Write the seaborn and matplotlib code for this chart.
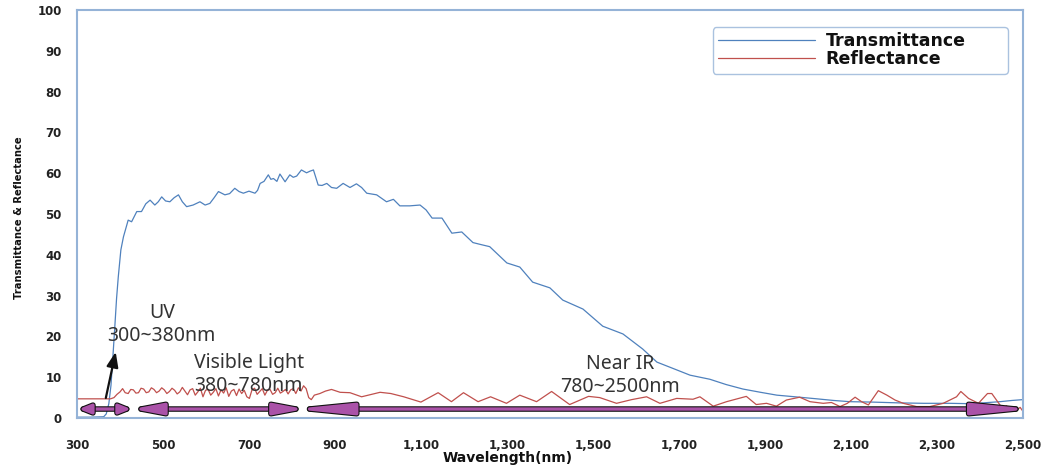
import matplotlib
matplotlib.use("Agg")
import matplotlib.pyplot as plt
import matplotlib.patheffects as pe
from matplotlib.patches import FancyArrowPatch, ArrowStyle
from matplotlib.lines import Line2D
from matplotlib import font_manager as fm
import seaborn as sns
import pandas as pd

# ---------------- data ----------------
trans_nm = [300, 330, 362, 368, 374, 379, 384, 388, 392, 396, 402, 408, 419, 427, 439, 450, 460, 470,
            481, 489, 497, 506, 516, 526, 536, 545, 555, 570, 586, 598, 609, 619, 629, 644, 655, 667,
            677, 687, 700, 714, 720, 726, 735, 745, 751, 757, 765, 772, 784, 795, 803, 811, 822, 834,
            842, 850, 861, 870, 881, 892, 904, 919, 935, 950, 962, 974, 997, 1020, 1036, 1051, 1074,
            1098, 1112, 1126, 1149, 1172, 1195, 1221, 1240, 1260, 1280, 1300, 1330, 1360, 1400, 1430,
            1477, 1523, 1570, 1616, 1649, 1690, 1726, 1772, 1810, 1849, 1890, 1928, 1970, 2021, 2060,
            2098, 2150, 2214, 2270, 2330, 2380, 2447, 2475, 2500]
trans_val = [0.2, 0.2, 0.3, 1.0, 3.5, 8.0, 15.9, 22.5, 29.3, 34.6, 41.2, 44.4, 48.5, 48.1, 50.6, 50.6,
             52.5, 53.4, 52.2, 53.0, 54.2, 53.2, 53.0, 54.0, 54.7, 53.0, 51.8, 52.2, 53.0, 52.2, 52.6,
             54.0, 55.5, 54.7, 55.0, 56.3, 55.5, 55.1, 55.6, 55.1, 55.8, 57.5, 58.0, 59.6, 58.5, 58.7,
             58.0, 59.8, 57.9, 59.6, 59.0, 59.3, 60.8, 60.1, 60.5, 60.8, 57.1, 57.0, 57.5, 56.5, 56.3,
             57.5, 56.5, 57.4, 56.5, 55.1, 54.7, 53.0, 53.6, 52.0, 52.0, 52.2, 51.0, 49.0, 49.0, 45.3,
             45.6, 43.0, 42.5, 42.0, 40.0, 38.0, 37.0, 33.3, 31.9, 28.9, 26.7, 22.5, 20.6, 16.9, 13.7,
             12.0, 10.5, 9.5, 8.2, 7.1, 6.3, 5.6, 5.2, 4.7, 4.3, 4.0, 3.9, 3.7, 3.6, 3.6, 3.5, 4.0,
             4.3, 4.5]

refl_nm = [300, 340, 378, 386, 393, 400, 406, 412, 419, 425, 431, 437, 443, 449, 455, 461, 467, 473,
           479, 485, 491, 497, 503, 509, 515, 521, 527, 533, 539, 545, 551, 557, 563, 569, 575, 581,
           587, 593, 599, 605, 611, 617, 623, 629, 635, 641, 647, 653, 659, 665, 671, 677, 683, 689,
           695, 701, 707, 713, 719, 725, 731, 737, 743, 749, 755, 761, 767, 773, 779, 785, 791, 797,
           803, 809, 815, 821, 827, 833, 839, 845, 852, 865, 878, 892, 912, 935, 962, 985, 1005, 1030,
           1060, 1100, 1140, 1171, 1199, 1233, 1262, 1299, 1330, 1369, 1404, 1446, 1490, 1516, 1555,
           1590, 1625, 1656, 1695, 1733, 1749, 1780, 1811, 1857, 1880, 1904, 1927, 1950, 1981, 2005,
           2036, 2055, 2075, 2092, 2110, 2125, 2141, 2164, 2184, 2203, 2222, 2253, 2284, 2315, 2346,
           2356, 2374, 2397, 2418, 2428, 2447, 2455, 2462, 2470, 2478, 2486, 2494, 2500]
refl_val = [4.7, 4.7, 4.7, 5.0, 5.8, 6.4, 7.2, 6.2, 6.0, 7.0, 6.9, 6.1, 6.2, 7.3, 7.1, 6.2, 6.4, 7.4,
            7.0, 6.2, 6.6, 7.4, 6.9, 6.0, 6.5, 7.3, 6.8, 5.9, 6.4, 7.5, 6.6, 5.7, 6.9, 7.2, 5.6, 6.4,
            7.3, 5.2, 6.8, 7.0, 5.6, 6.3, 7.2, 5.4, 6.9, 6.1, 7.4, 5.3, 6.6, 7.0, 5.5, 7.1, 6.0, 6.8,
            5.2, 4.8, 6.9, 7.3, 5.8, 6.5, 7.2, 5.6, 6.8, 7.0, 5.8, 6.2, 7.3, 6.1, 6.5, 7.0, 5.9, 6.9,
            7.2, 6.0, 7.4, 6.6, 7.9, 7.2, 5.0, 4.5, 5.6, 6.0, 6.6, 7.0, 6.3, 6.2, 5.2, 5.8, 6.3, 6.0,
            5.2, 3.9, 6.2, 4.0, 6.2, 4.0, 5.2, 3.6, 5.6, 4.0, 6.5, 3.3, 5.3, 5.0, 3.6,
            4.5, 5.2, 3.6, 4.8, 4.6, 5.2, 2.9, 4.0, 5.3, 3.3, 3.6, 2.9, 4.4, 5.1, 4.0,
            3.6, 3.8, 2.8, 3.6, 5.1, 4.0, 3.2, 6.7, 5.6, 4.4, 3.6, 2.8, 2.8, 3.6, 5.2,
            6.5, 4.8, 3.6, 6.0, 6.0, 3.2, 2.4, 3.0, 2.2, 2.8, 2.0, 2.6, 1.7]

series_names = ["Transmittance", "Reflectance"]
series_colors = ["#4f81bd", "#c0504d"]

x_ticks = [300, 500, 700, 900, 1100, 1300, 1500, 1700, 1900, 2100, 2300, 2500]
x_tick_labels = ["300", "500", "700", "900", "1,100", "1,300", "1,500", "1,700", "1,900",
                 "2,100", "2,300", "2,500"]
y_ticks = [0, 10, 20, 30, 40, 50, 60, 70, 80, 90, 100]

# band arrows (anchor points of the arrow patches)
band_start = [304, 428, 802]
band_end = [426, 830, 2523]
band_level = 2.2
band_head_len = [7.0, 18.0, 34.0]
band_head_w = [2.8, 3.4, 3.4]

uv_pointer_from = (367, 4.9)
uv_pointer_to = (390, 16.2)

band_labels = ["UV\n300~380nm", "Visible Light\n380~780nm", "Near IR\n780~2500nm"]
band_label_pos = [(497, 23.0), (573, 10.7), (1563, 10.5)]
band_label_ha = ["center", "left", "center"]

# ---------------- plot ----------------
sns.set_style("white")
plt.rcParams["font.family"] = ["DejaVu Sans"]

df = pd.concat([
    pd.DataFrame({"nm": trans_nm, "value": trans_val, "series": series_names[0]}),
    pd.DataFrame({"nm": refl_nm, "value": refl_val, "series": series_names[1]}),
])

fig = plt.figure(figsize=(10.45, 4.66), dpi=100)
ax = fig.add_axes([0.0737, 0.103, 0.905, 0.8755])

sns.lineplot(data=df, x="nm", y="value", hue="series", hue_order=series_names,
             palette=dict(zip(series_names, series_colors)), linewidth=0.9,
             estimator=None, sort=False, ax=ax, legend=False)

ax.set_xlim(300, 2500)
ax.set_ylim(0, 100)

frame_col = "#95b3d7"
for s in ax.spines.values():
    s.set_color(frame_col)
    s.set_linewidth(1.5)

ax.set_xticks(x_ticks)
ax.set_xticklabels(x_tick_labels)
ax.set_xticks(list(range(300, 2501, 50)), minor=True)
ax.set_yticks(y_ticks)
ax.set_yticklabels([str(v) for v in y_ticks])
ax.tick_params(axis="x", which="both", direction="out", length=4, width=0.8,
               color="#a0a8b8", pad=11, labelsize=8.5, labelcolor="#222222")
ax.tick_params(axis="y", which="both", length=0, pad=11, labelsize=8.5, labelcolor="#222222")
for lab in ax.get_xticklabels() + ax.get_yticklabels():
    lab.set_fontweight("bold")

ax.set_xlabel("Wavelength(nm)", fontsize=10, fontweight="bold", color="#111111")
ax.xaxis.set_label_coords(0.455, -0.082)

# narrow bold font for the y label, if one is installed
narrow = [f for f in fm.fontManager.ttflist
          if ("Narrow" in f.name or "Condensed" in f.name or "Condensed" in f.fname
              or "Narrow" in f.fname)]
narrow_bold = [f for f in narrow if (isinstance(f.weight, int) and f.weight >= 600)
               or str(f.weight).lower() == "bold"]
if narrow_bold or narrow:
    fsel = (narrow_bold or narrow)[0]
    yprop = fm.FontProperties(fname=fsel.fname, size=8.0, weight="bold")
else:
    yprop = fm.FontProperties(family="DejaVu Sans", size=7.4, weight="bold")
ax.set_ylabel("Transmittance & Reflectance", fontproperties=yprop, color="#111111")
ax.yaxis.set_label_coords(-0.056, 0.49)

# band arrows
purple = "#aa52a8"
for s, e, hl, hw in zip(band_start, band_end, band_head_len, band_head_w):
    arr = FancyArrowPatch((s, band_level), (e, band_level),
                          arrowstyle=ArrowStyle("<|-|>", head_length=hl, head_width=hw),
                          mutation_scale=1, color=purple, lw=2.4, shrinkA=0, shrinkB=0,
                          zorder=5, clip_on=False)
    arr.set_path_effects([pe.Stroke(linewidth=4.0, foreground="#111111"), pe.Normal()])
    ax.add_patch(arr)

# UV pointer arrow
ax.add_patch(FancyArrowPatch(uv_pointer_from, uv_pointer_to,
                             arrowstyle=ArrowStyle("-|>", head_length=9, head_width=3.5),
                             mutation_scale=1, color="#111111", lw=1.6,
                             shrinkA=0, shrinkB=0, zorder=6))

for txt, (tx, ty), ha in zip(band_labels, band_label_pos, band_label_ha):
    ax.text(tx, ty, txt, ha=ha, va="center", multialignment=ha, fontsize=14,
            family=["Noto Sans", "DejaVu Sans"], color="#333333", linespacing=1.2, zorder=7)

# legend
handles = [Line2D([], [], color=c, lw=0.9) for c in series_colors]
leg = ax.legend(handles, series_names, loc="upper left",
                bbox_to_anchor=(0.672, 0.848, 0.312, 0.11), mode="expand",
                borderaxespad=0, frameon=True, fancybox=True, handlelength=5.6,
                handletextpad=0.6, labelspacing=0.0, borderpad=0.3,
                prop={"weight": "bold", "size": 12.5})
leg.get_frame().set_edgecolor(frame_col)
leg.get_frame().set_linewidth(1.0)
for t in leg.get_texts():
    t.set_color("#111111")

fig.savefig("out.png", dpi=100)
